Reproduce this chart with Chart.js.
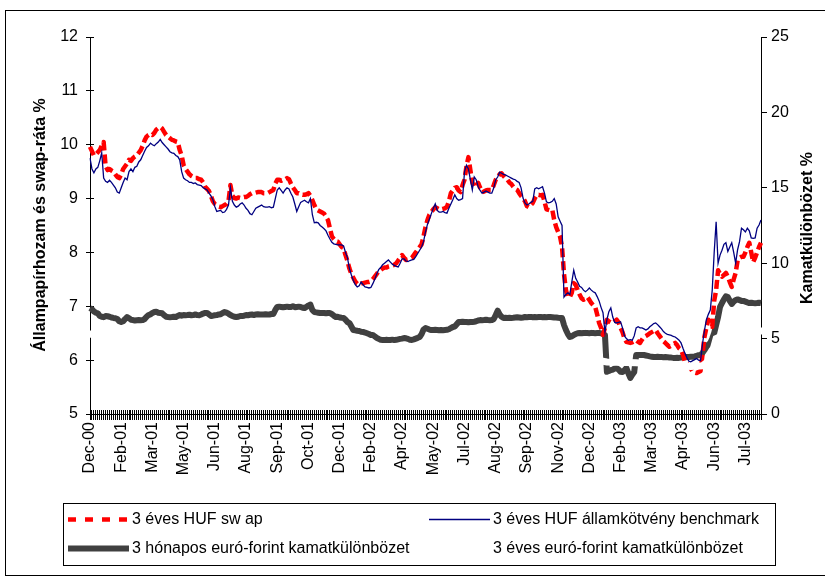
<!DOCTYPE html>
<html>
<head>
<meta charset="utf-8">
<script src="https://cdn.jsdelivr.net/npm/chart.js@4.4.1/dist/chart.umd.min.js"></script>
<style>
  html, body { margin: 0; padding: 0; background: #fff; }
  canvas { display: block; }
</style>
</head>
<body>
<canvas id="c" width="825" height="578"></canvas>
<script>
// Month labels printed under the axis, one every 16 observations
const xTickLabels = ['Dec-00','Feb-01','Mar-01','May-01','Jun-01','Aug-01','Sep-01','Oct-01',
  'Dec-01','Feb-02','Apr-02','May-02','Jul-02','Aug-02','Sep-02','Nov-02','Dec-02',
  'Feb-03','Mar-03','Apr-03','Jun-03','Jul-03'];
const labelStep = 16;

const seriesNames = ['3 éves HUF sw ap', '3 éves HUF államkötvény benchmark',
  '3 hónapos euró-forint kamatkülönbözet', '3 éves euró-forint kamatkülönbözet'];

// 3-year HUF swap rate, %
const swap3y = [
  9.96,9.88,9.80,9.82,9.86,9.90,9.98,10.05,9.60,9.53,
  9.55,9.52,9.50,9.45,9.40,9.38,9.45,9.55,9.60,9.65,
  9.72,9.70,9.75,9.78,9.80,9.85,9.90,9.98,10.08,10.15,
  10.18,10.20,10.18,10.22,10.28,10.31,10.33,10.30,10.24,10.18,
  10.15,10.12,10.09,10.08,10.06,10.05,9.90,9.80,9.62,9.55,
  9.50,9.45,9.42,9.40,9.38,9.38,9.36,9.35,9.30,9.22,
  9.18,9.14,9.05,8.95,8.90,8.88,8.85,8.84,8.86,8.88,
  8.90,8.95,9.25,9.05,9.01,9.00,9.02,9.01,9.02,9.03,
  9.03,9.05,9.08,9.10,9.10,9.11,9.12,9.12,9.12,9.10,
  9.10,9.10,9.12,9.14,9.16,9.28,9.35,9.35,9.33,9.35,
  9.36,9.38,9.36,9.28,9.21,9.16,9.10,9.10,9.08,9.07,
  9.07,9.08,9.10,9.05,8.97,8.88,8.80,8.78,8.76,8.74,
  8.72,8.66,8.60,8.45,8.30,8.25,8.21,8.20,8.15,8.10,
  8.08,7.95,7.84,7.70,7.60,7.53,7.46,7.42,7.40,7.42,
  7.43,7.44,7.45,7.45,7.46,7.50,7.55,7.60,7.65,7.67,
  7.70,7.72,7.72,7.74,7.75,7.76,7.77,7.80,7.85,7.90,
  7.95,7.90,7.86,7.87,7.88,7.90,7.95,8.00,8.05,8.10,
  8.15,8.30,8.47,8.60,8.70,8.75,8.80,8.84,8.82,8.80,
  8.80,8.81,8.82,8.85,8.95,9.10,9.15,9.20,9.21,9.15,
  9.12,9.25,9.35,9.60,9.77,9.53,9.30,9.21,9.25,9.29,
  9.20,9.12,9.13,9.15,9.16,9.16,9.16,9.25,9.35,9.40,
  9.45,9.47,9.42,9.38,9.35,9.30,9.27,9.22,9.18,9.16,
  9.10,9.05,9.01,8.95,8.86,8.84,8.88,8.92,9.00,9.07,
  9.07,9.06,9.07,8.95,8.80,8.79,8.78,8.79,8.60,8.47,
  8.38,8.29,8.10,7.60,7.30,7.17,7.17,7.25,7.43,7.40,
  7.30,7.22,7.15,7.12,7.14,7.17,7.12,7.06,7.02,6.99,
  6.85,6.69,6.60,6.47,6.60,6.75,6.72,6.70,6.69,6.72,
  6.75,6.70,6.60,6.52,6.40,6.34,6.33,6.32,6.33,6.35,
  6.37,6.34,6.32,6.38,6.43,6.45,6.47,6.50,6.52,6.54,
  6.56,6.50,6.45,6.40,6.35,6.32,6.28,6.25,6.27,6.30,
  6.32,6.28,6.22,6.19,6.10,5.97,5.93,5.90,5.85,5.78,
  5.77,5.76,5.78,5.80,6.10,6.43,6.60,6.75,6.65,6.62,
  7.10,7.30,7.67,7.60,7.55,7.58,7.62,7.55,7.45,7.36,
  7.50,7.62,7.85,7.90,7.92,7.92,8.00,8.10,8.18,8.00,
  7.82,7.90,8.00,8.10,8.18
];

// 3-year HUF government bond benchmark yield, %
const bond3y = [
  9.75,9.55,9.48,9.55,9.58,9.70,9.85,9.38,9.32,9.30,
  9.34,9.30,9.25,9.20,9.12,9.10,9.20,9.30,9.38,9.35,
  9.50,9.55,9.50,9.58,9.60,9.68,9.72,9.80,9.88,9.95,
  9.98,10.03,10.00,9.98,10.02,10.05,10.10,10.04,10.00,9.96,
  9.92,9.87,9.85,9.84,9.80,9.78,9.72,9.50,9.38,9.35,
  9.33,9.30,9.30,9.28,9.29,9.26,9.25,9.24,9.20,9.18,
  9.16,9.10,9.05,8.98,8.85,8.76,8.77,8.78,8.74,8.75,
  8.80,8.88,9.20,8.95,8.88,8.84,8.86,8.90,8.92,8.88,
  8.82,8.78,8.72,8.70,8.76,8.82,8.84,8.86,8.88,8.85,
  8.84,8.84,8.85,8.83,8.84,9.00,9.16,9.20,9.15,9.10,
  9.16,9.20,9.18,9.10,9.03,8.90,8.76,8.85,8.93,8.95,
  8.97,8.94,8.92,9.00,8.70,8.55,8.56,8.55,8.50,8.47,
  8.44,8.40,8.32,8.25,8.19,8.16,8.15,8.14,8.14,8.14,
  8.12,8.00,7.90,7.70,7.58,7.48,7.40,7.36,7.38,7.45,
  7.40,7.36,7.35,7.34,7.35,7.42,7.50,7.60,7.68,7.72,
  7.77,7.80,7.83,7.86,7.82,7.78,7.76,7.74,7.73,7.80,
  7.88,7.88,7.84,7.83,7.85,7.86,7.87,7.92,7.98,8.04,
  8.10,8.20,8.38,8.52,8.62,8.72,8.82,8.90,8.78,8.75,
  8.75,8.76,8.74,8.73,8.82,8.90,8.98,9.07,9.00,8.97,
  8.98,9.00,9.50,9.62,9.55,9.35,9.16,9.40,9.35,9.22,
  9.15,9.10,9.12,9.14,9.12,9.10,9.10,9.20,9.35,9.40,
  9.49,9.47,9.45,9.44,9.42,9.40,9.38,9.36,9.35,9.32,
  9.30,9.20,9.01,8.92,8.88,8.90,8.93,8.95,9.18,9.20,
  9.18,9.20,9.22,9.10,8.94,8.92,8.93,8.95,9.00,8.90,
  8.66,8.58,8.50,7.17,7.22,7.25,7.22,7.45,7.67,7.52,
  7.45,7.37,7.35,7.30,7.27,7.30,7.34,7.30,7.27,7.25,
  7.18,7.10,6.98,6.88,6.52,6.75,6.90,6.97,6.80,6.70,
  6.69,6.70,6.71,6.60,6.45,6.40,6.37,6.38,6.37,6.45,
  6.60,6.62,6.60,6.60,6.58,6.56,6.58,6.62,6.65,6.68,
  6.69,6.66,6.62,6.58,6.53,6.50,6.48,6.47,6.46,6.44,
  6.43,6.40,6.37,6.32,6.22,6.13,6.05,5.98,5.97,5.99,
  6.01,6.03,6.00,5.99,6.30,6.55,6.75,6.85,6.93,7.30,
  8.00,8.57,7.80,7.95,8.04,8.15,8.18,8.02,8.10,8.18,
  8.00,7.80,8.05,8.20,8.45,8.42,8.38,8.45,8.40,8.27,
  8.26,8.27,8.45,8.51,8.60
];

// 3-month euro-forint interest differential, percentage points (right axis)
const spread3m = [
  7.03,6.95,6.80,6.72,6.68,6.50,6.45,6.42,6.50,6.48,
  6.45,6.40,6.37,6.35,6.30,6.15,6.10,6.15,6.30,6.43,
  6.35,6.25,6.23,6.20,6.22,6.23,6.22,6.23,6.30,6.45,
  6.56,6.60,6.70,6.76,6.78,6.72,6.70,6.68,6.55,6.45,
  6.43,6.42,6.43,6.45,6.43,6.50,6.56,6.52,6.56,6.55,
  6.56,6.58,6.55,6.56,6.60,6.56,6.55,6.60,6.66,6.70,
  6.70,6.60,6.50,6.52,6.55,6.56,6.60,6.62,6.70,6.76,
  6.72,6.65,6.56,6.50,6.45,6.43,6.45,6.50,6.50,6.52,
  6.56,6.55,6.58,6.60,6.56,6.60,6.62,6.60,6.60,6.60,
  6.62,6.60,6.60,6.63,6.63,6.90,7.10,7.12,7.10,7.08,
  7.10,7.12,7.10,7.10,7.15,7.08,7.10,7.12,7.10,7.05,
  7.03,7.10,7.20,7.25,6.90,6.76,6.74,6.72,6.70,6.70,
  6.70,6.68,6.70,6.70,6.62,6.52,6.43,6.45,6.40,6.38,
  6.37,6.25,6.10,6.03,5.80,5.57,5.55,5.52,5.50,5.45,
  5.44,5.40,5.35,5.30,5.24,5.24,5.15,5.05,4.98,4.92,
  4.91,4.90,4.92,4.90,4.91,4.93,4.90,4.92,4.95,4.98,
  5.00,5.04,5.02,4.98,4.92,4.91,4.95,5.00,5.05,5.11,
  5.30,5.60,5.70,5.65,5.60,5.57,5.57,5.58,5.57,5.55,
  5.57,5.56,5.57,5.58,5.62,5.70,5.77,5.80,5.95,6.10,
  6.10,6.12,6.10,6.10,6.08,6.10,6.10,6.12,6.15,6.20,
  6.23,6.22,6.23,6.25,6.23,6.22,6.23,6.30,6.56,6.85,
  6.60,6.45,6.37,6.38,6.37,6.38,6.37,6.38,6.40,6.42,
  6.40,6.38,6.40,6.43,6.42,6.43,6.44,6.42,6.43,6.42,
  6.43,6.44,6.42,6.43,6.42,6.43,6.43,6.42,6.40,6.40,
  6.38,6.37,6.37,5.90,5.57,5.30,5.11,5.15,5.24,5.30,
  5.35,5.37,5.35,5.37,5.38,5.37,5.36,5.38,5.37,5.36,
  5.37,5.38,5.35,5.30,5.24,2.80,2.85,2.91,2.95,3.02,
  3.05,2.95,2.80,2.78,2.90,3.05,2.70,2.39,2.60,2.78,
  3.91,3.92,3.91,3.92,3.91,3.88,3.85,3.82,3.80,3.78,
  3.78,3.79,3.78,3.78,3.77,3.78,3.77,3.75,3.74,3.72,
  3.72,3.73,3.72,3.74,3.75,3.76,3.78,3.78,3.79,3.80,
  3.82,3.86,3.90,3.91,4.05,4.24,4.45,4.60,4.71,5.00,
  5.37,5.90,6.43,7.10,7.36,7.60,7.80,7.75,7.50,7.30,
  7.45,7.56,7.60,7.55,7.50,7.50,7.45,7.40,7.36,7.38,
  7.36,7.35,7.36,7.38,7.36
];

// 3-year euro-forint differential (drawn in white), given at selected observations
const spread3yAt = [0,20,40,60,80,100,120,135,150,165,180,195,210,225,240,250,265,280,295,308,314,318,321,330,344];
const spread3yVal = [5.3,5.0,5.1,4.9,4.7,4.8,4.4,3.6,3.4,3.7,4.6,5.0,5.1,4.9,4.5,3.8,3.45,3.4,3.25,3.15,3.2,3.6,5.0,5.5,5.5];

const FONT = "'Liberation Sans', Arial, sans-serif";

// category axis: one slot per observation, a month label every labelStep slots
const categories = swap3y.map((_, i) => (i % labelStep === 0 ? (xTickLabels[i / labelStep] || '') : ''));
const spread3y = swap3y.map(() => null);
spread3yAt.forEach((idx, k) => { spread3y[idx] = spread3yVal[k]; });

function crisp(p) { return Math.round(p - 0.5) + 0.5; }

const decorations = {
  id: 'decorations',
  beforeDatasetsDraw(chart) {
    const { ctx, chartArea, scales } = chart;
    ctx.save();
    ctx.strokeStyle = '#000';
    ctx.lineWidth = 1;
    ctx.beginPath();
    // inner halves of the crossing tick marks (left and bottom axes)
    scales.y.ticks.forEach(t => {
      const y = crisp(scales.y.getPixelForValue(t.value));
      ctx.moveTo(chartArea.left, y);
      ctx.lineTo(chartArea.left + 4, y);
    });
    for (let i = 0; i < categories.length; i++) {
      const x = crisp(scales.x.getPixelForValue(i));
      ctx.moveTo(x, chartArea.bottom);
      ctx.lineTo(x, chartArea.bottom - 4);
    }
    ctx.stroke();
    ctx.restore();
  },
  afterDraw(chart) {
    const { ctx } = chart;
    ctx.save();
    // outer frame
    ctx.strokeStyle = '#000';
    ctx.lineWidth = 1;
    ctx.strokeRect(5.5, 10.5, 830, 565);

    // axis titles, both reading bottom to top
    ctx.fillStyle = '#000';
    ctx.font = 'bold 16px ' + FONT;
    ctx.textAlign = 'center';
    ctx.textBaseline = 'middle';
    [[41, 225, 'Állampapírhozam és swap-ráta %'], [808, 228, 'Kamatkülönbözet %']].forEach(([x, y, t]) => {
      ctx.save();
      ctx.translate(x, y);
      ctx.rotate(-Math.PI / 2);
      ctx.fillText(t, 0, 0);
      ctx.restore();
    });

    // legend box
    ctx.strokeRect(63.5, 503.5, 712, 62);
    const slots = [[68, 519], [429, 519], [68, 548], [429, 548]];
    ctx.font = '16px ' + FONT;
    ctx.textAlign = 'left';
    chart.data.datasets.forEach((ds, k) => {
      const [x, y] = slots[k];
      ctx.save();
      ctx.strokeStyle = ds.borderColor;
      ctx.lineWidth = ds.borderWidth;
      ctx.setLineDash(ds.borderDash ? [8, 9] : []);
      ctx.beginPath();
      ctx.moveTo(x, y + 0.5);
      ctx.lineTo(x + 61, y + 0.5);
      ctx.stroke();
      ctx.restore();
      ctx.fillStyle = '#000';
      ctx.fillText(ds.label, x + 64, y + 1);
    });
    ctx.restore();
  }
};

new Chart(document.getElementById('c'), {
  type: 'line',
  data: {
    labels: categories,
    datasets: [
      { label: seriesNames[0], data: swap3y, yAxisID: 'y', borderColor: '#FF0000', borderWidth: 4.5,
        borderDash: [9, 4], borderJoinStyle: 'round', order: 2 },
      { label: seriesNames[1], data: bond3y, yAxisID: 'y', borderColor: '#000080', borderWidth: 1.3,
        order: 1 },
      { label: seriesNames[2], data: spread3m, yAxisID: 'y2', borderColor: '#404040', borderWidth: 6,
        borderJoinStyle: 'round', order: 3 },
      { label: seriesNames[3], data: spread3y, yAxisID: 'y2', borderColor: '#FFFFFF', borderWidth: 7,
        borderCapStyle: 'square', spanGaps: true, order: 0 }
    ]
  },
  options: {
    responsive: false,
    animation: false,
    events: [],
    layout: { padding: { top: 37, left: 0, right: 0, bottom: 0 } },
    elements: { point: { radius: 0 }, line: { tension: 0 } },
    plugins: { legend: { display: false }, tooltip: { enabled: false } },
    scales: {
      x: {
        type: 'category',
        grid: { display: true, drawOnChartArea: false, drawTicks: true, tickLength: 6, color: '#000', lineWidth: 1 },
        border: { display: true, color: '#000', width: 1 },
        ticks: { autoSkip: false, minRotation: 90, maxRotation: 90, padding: 2, color: '#000',
          font: { family: FONT, size: 16 } },
        afterFit(s) { s.height = 164; }
      },
      y: {
        position: 'left', min: 5, max: 12,
        grid: { display: true, drawOnChartArea: false, tickLength: 4, color: '#000' },
        border: { display: true, color: '#000', width: 1 },
        ticks: { stepSize: 1, padding: 8, color: '#000', font: { family: FONT, size: 16 } },
        afterFit(s) { s.width = 90; }
      },
      y2: {
        position: 'right', min: 0, max: 25,
        grid: { display: true, drawOnChartArea: false, tickLength: 6, color: '#000' },
        border: { display: true, color: '#000', width: 1 },
        ticks: { stepSize: 5, padding: 4, color: '#000', font: { family: FONT, size: 16 } },
        afterFit(s) { s.width = 64; }
      }
    }
  },
  plugins: [decorations]
});
</script>
</body>
</html>
